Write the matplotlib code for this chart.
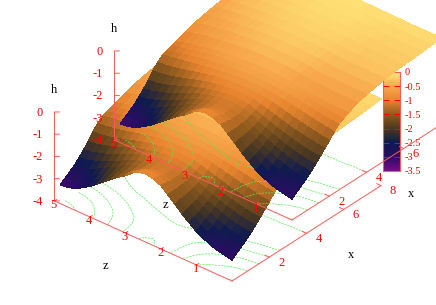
import numpy as np
import matplotlib
matplotlib.use('Agg')
import matplotlib.pyplot as plt
from matplotlib.colors import LinearSegmentedColormap, Normalize
from matplotlib.cm import ScalarMappable
from mpl_toolkits.mplot3d import proj3d

# Data

x_values = [0, 0.25, 0.5, 0.75, 1, 1.25, 1.5, 1.75, 2, 2.25, 2.5, 2.75, 3, 3.5, 4, 4.5, 5, 5.5, 6, 6.5, 7, 7.5, 8]
z_values = [0, 0.2, 0.4, 0.6, 0.8, 1.0, 1.2, 1.4, 1.6, 1.8, 2.0, 2.2, 2.4, 2.6, 2.8, 3.0, 3.2, 3.4, 3.6, 3.8, 4.0, 4.2, 4.4, 4.6, 4.83]
h_values = [
    [-3.05, -2.98, -2.92, -2.82, -2.66, -2.50, -2.25, -2.00, -1.70, -1.42, -1.15, -1.00, -0.93, -0.98, -1.15, -1.42, -1.63, -1.87, -2.12, -2.38, -2.62, -2.82, -3.00, -3.10, -3.15],
    [-2.88, -2.84, -2.78, -2.68, -2.53, -2.37, -2.15, -1.92, -1.65, -1.40, -1.18, -1.03, -0.97, -1.02, -1.20, -1.41, -1.60, -1.82, -2.04, -2.28, -2.50, -2.69, -2.86, -2.96, -3.00],
    [-2.72, -2.67, -2.60, -2.50, -2.38, -2.23, -2.06, -1.86, -1.62, -1.40, -1.22, -1.10, -1.06, -1.12, -1.26, -1.40, -1.57, -1.76, -1.97, -2.17, -2.37, -2.55, -2.70, -2.80, -2.85],
    [-2.56, -2.52, -2.46, -2.36, -2.24, -2.10, -1.95, -1.78, -1.58, -1.38, -1.22, -1.13, -1.11, -1.15, -1.26, -1.38, -1.52, -1.69, -1.87, -2.05, -2.23, -2.40, -2.55, -2.63, -2.68],
    [-2.38, -2.34, -2.28, -2.19, -2.08, -1.96, -1.83, -1.69, -1.52, -1.36, -1.22, -1.14, -1.12, -1.15, -1.23, -1.33, -1.44, -1.58, -1.74, -1.90, -2.05, -2.20, -2.32, -2.42, -2.47],
    [-2.17, -2.13, -2.08, -2.00, -1.91, -1.80, -1.68, -1.56, -1.42, -1.28, -1.16, -1.09, -1.08, -1.10, -1.16, -1.24, -1.33, -1.44, -1.57, -1.72, -1.87, -2.00, -2.10, -2.20, -2.25],
    [-1.95, -1.92, -1.87, -1.81, -1.73, -1.64, -1.54, -1.43, -1.31, -1.19, -1.08, -1.03, -1.02, -1.04, -1.09, -1.15, -1.23, -1.32, -1.42, -1.54, -1.67, -1.79, -1.90, -1.97, -2.00],
    [-1.72, -1.68, -1.63, -1.58, -1.50, -1.43, -1.34, -1.24, -1.14, -1.05, -0.98, -0.95, -0.94, -0.95, -0.98, -1.03, -1.09, -1.17, -1.26, -1.36, -1.46, -1.55, -1.63, -1.69, -1.72],
    [-1.50, -1.45, -1.40, -1.33, -1.26, -1.18, -1.10, -1.02, -0.95, -0.89, -0.85, -0.83, -0.83, -0.84, -0.87, -0.90, -0.95, -1.01, -1.08, -1.16, -1.24, -1.32, -1.39, -1.44, -1.46],
    [-1.25, -1.19, -1.14, -1.09, -1.02, -0.96, -0.90, -0.85, -0.80, -0.76, -0.73, -0.72, -0.72, -0.73, -0.76, -0.80, -0.83, -0.88, -0.93, -0.98, -1.04, -1.10, -1.15, -1.20, -1.28],
    [-1.04, -1.00, -0.97, -0.92, -0.87, -0.81, -0.76, -0.72, -0.69, -0.66, -0.64, -0.63, -0.63, -0.64, -0.66, -0.69, -0.72, -0.76, -0.80, -0.86, -0.92, -0.99, -1.06, -1.13, -1.22],
    [-0.92, -0.89, -0.86, -0.82, -0.76, -0.71, -0.67, -0.64, -0.61, -0.59, -0.57, -0.56, -0.56, -0.57, -0.59, -0.61, -0.64, -0.67, -0.72, -0.78, -0.84, -0.91, -0.98, -1.06, -1.15],
    [-0.80, -0.79, -0.78, -0.76, -0.74, -0.72, -0.69, -0.65, -0.60, -0.55, -0.52, -0.50, -0.50, -0.51, -0.52, -0.55, -0.58, -0.62, -0.66, -0.71, -0.77, -0.84, -0.90, -0.98, -1.08],
    [-0.62, -0.61, -0.60, -0.59, -0.58, -0.57, -0.56, -0.53, -0.48, -0.44, -0.42, -0.41, -0.41, -0.41, -0.42, -0.44, -0.47, -0.50, -0.54, -0.58, -0.63, -0.68, -0.74, -0.82, -0.90],
    [-0.50, -0.50, -0.50, -0.49, -0.49, -0.49, -0.49, -0.46, -0.41, -0.37, -0.35, -0.34, -0.34, -0.34, -0.35, -0.36, -0.38, -0.41, -0.44, -0.47, -0.51, -0.56, -0.61, -0.68, -0.76],
    [-0.42, -0.42, -0.42, -0.41, -0.41, -0.41, -0.40, -0.37, -0.33, -0.30, -0.29, -0.28, -0.28, -0.28, -0.29, -0.31, -0.33, -0.36, -0.39, -0.42, -0.46, -0.50, -0.55, -0.60, -0.66],
    [-0.33, -0.33, -0.33, -0.33, -0.33, -0.33, -0.32, -0.30, -0.27, -0.25, -0.24, -0.23, -0.23, -0.23, -0.24, -0.26, -0.28, -0.30, -0.33, -0.36, -0.39, -0.43, -0.47, -0.52, -0.58],
    [-0.28, -0.28, -0.28, -0.28, -0.28, -0.28, -0.27, -0.25, -0.23, -0.21, -0.20, -0.19, -0.19, -0.19, -0.20, -0.22, -0.24, -0.26, -0.28, -0.31, -0.34, -0.37, -0.41, -0.45, -0.50],
    [-0.25, -0.25, -0.25, -0.25, -0.25, -0.24, -0.23, -0.21, -0.19, -0.18, -0.17, -0.16, -0.16, -0.16, -0.17, -0.18, -0.20, -0.22, -0.24, -0.26, -0.29, -0.32, -0.35, -0.39, -0.43],
    [-0.22, -0.22, -0.22, -0.22, -0.21, -0.21, -0.20, -0.18, -0.16, -0.15, -0.14, -0.13, -0.13, -0.13, -0.14, -0.15, -0.16, -0.18, -0.20, -0.22, -0.24, -0.27, -0.29, -0.32, -0.35],
    [-0.19, -0.19, -0.19, -0.18, -0.18, -0.17, -0.16, -0.15, -0.14, -0.12, -0.11, -0.11, -0.11, -0.11, -0.11, -0.12, -0.13, -0.15, -0.16, -0.18, -0.20, -0.21, -0.23, -0.25, -0.27],
    [-0.15, -0.15, -0.15, -0.14, -0.14, -0.13, -0.13, -0.12, -0.11, -0.10, -0.09, -0.09, -0.09, -0.09, -0.09, -0.10, -0.11, -0.12, -0.13, -0.14, -0.15, -0.16, -0.17, -0.18, -0.18],
    [-0.10, -0.10, -0.10, -0.10, -0.10, -0.10, -0.09, -0.09, -0.08, -0.08, -0.07, -0.07, -0.07, -0.07, -0.07, -0.08, -0.08, -0.09, -0.09, -0.10, -0.10, -0.10, -0.10, -0.10, -0.10],
]
contour_levels = [-3, -2.5, -2, -1.5, -1, -0.5]
x_ticks = [2, 4, 6, 8]
z_ticks = [1, 2, 3, 4, 5]
h_ticks = [0, -1, -2, -3, -4]
bar_ticks = [0, -0.5, -1, -1.5, -2, -2.5, -3, -3.5]
palette_stops = ['#760a8a', '#2c0c64', '#0e1a50', '#4a3820', '#8f5a1e', '#e8842f', '#f8a84c', '#ffe97a']

# Things changeable

width = 436
height = 305
red = '#ff0000'
line_red = '#ff5a5a'
green = '#50f050'
serif = 'Liberation Serif'

plt.rcParams['font.family'] = [serif, 'DejaVu Serif']

fig = plt.figure(figsize=(width/100, height/100), dpi=100)
x_grid = np.array(x_values)
z_grid = np.array(z_values)
h_grid = np.array(h_values)
palette = LinearSegmentedColormap.from_list('gp', palette_stops)
norm = Normalize(-3.5, 0)


def pixel_of(ax, x, z, h):
    px, py, _ = proj3d.proj_transform(x, z, h, ax.get_proj())
    return ax.transData.transform((px, py))


def place_axes(ax, origin, x_end):
    # gnuplot draws axes to fixed pixels, so scale and shift the 3D box to fit
    ax.apply_aspect()
    a = pixel_of(ax, 0, 0, -4)
    b = pixel_of(ax, 8, 0, -4)
    scale = (x_end[0] - origin[0]) / (b[0] - a[0])
    ax.set_box_aspect((1, 1, 0.455), zoom=scale)
    ax.apply_aspect()
    a = pixel_of(ax, 0, 0, -4)
    pos = ax.get_position(original=True)
    shift_x = (origin[0] - a[0]) / width
    shift_y = ((height - origin[1]) - a[1]) / height
    ax.set_position([pos.x0 + shift_x, pos.y0 + shift_y, pos.width, pos.height])


def draw_plot(origin, x_end, order):
    size = 1000
    ax = fig.add_axes([0, 0, size/width, size/height], projection='3d', proj_type='ortho')
    ax.set_zorder(order)
    ax.patch.set_visible(False)
    ax.computed_zorder = False
    ax.view_init(elev=32.5, azim=-140)
    ax.set_axis_off()

    Z, X = np.meshgrid(z_grid, x_grid)
    cell = (h_grid[:-1, :-1] + h_grid[1:, :-1] + h_grid[:-1, 1:] + h_grid[1:, 1:]) / 4
    ax.contour(X, Z, h_grid, levels=contour_levels, zdir='z', offset=-4,
               colors=green, linewidths=0.5, linestyles=[(0, (3, 1.5))], zorder=1)
    ax.plot_surface(X, Z, h_grid, facecolors=palette(norm(cell)), rcount=100, ccount=100,
                    shade=False, linewidth=0.3, antialiased=False, zorder=3)

    # base of the box
    ax.plot([0, 0], [5, 0], [-4, -4], color=line_red, lw=0.7, zorder=2)
    ax.plot([0, 8], [0, 0], [-4, -4], color=line_red, lw=0.7, zorder=2)
    ax.plot([0, 0], [5, 5], [-4, 0], color=line_red, lw=0.7, zorder=2)
    for t in x_ticks:
        ax.plot([t, t], [0, 0.12], [-4, -4], color=line_red, lw=0.7, zorder=2)
        ax.text(t, -0.34, -4, str(t), color=red, fontsize=9, ha='center', va='center', zorder=2)
    for t in z_ticks:
        ax.plot([0, 0.12], [t, t], [-4, -4], color=line_red, lw=0.7, zorder=2)
        ax.text(-0.22, t - 0.09, -4, str(t), color=red, fontsize=9, ha='center', va='center', zorder=2)
    for t in h_ticks:
        ax.plot([0, 0.11], [5, 4.92], [t, t], color=line_red, lw=0.7, zorder=2)
        ax.text(-0.3, 5.16, t, str(t), color=red, fontsize=9, ha='right', va='center', zorder=2)
    ax.text(3.9, -1.31, -4, 'x', color='black', fontsize=9, ha='center', va='center', zorder=2)
    ax.text(-2.06, 2.48, -4, 'z', color='black', fontsize=9, ha='center', va='center', zorder=2)
    ax.text(0, 5, 1, 'h', color='black', fontsize=9, ha='center', va='center', zorder=2)

    ax.set_xlim(0, 8)
    ax.set_ylim(0, 5)
    ax.set_zlim(-4, 0)
    ax.set_box_aspect((1, 1, 0.455))
    place_axes(ax, origin, x_end)
    return ax


draw_plot((232, 281), (381, 184), 1)

# colour box of the lower plot
cax = fig.add_axes([383/width, (height - 171)/height, 17/width, 99/height])
cax.set_zorder(2)
bar = fig.colorbar(ScalarMappable(norm=norm, cmap=palette), cax=cax)
bar.set_ticks(bar_ticks)
bar.set_ticklabels([f'{t:g}' for t in bar_ticks])
bar.outline.set_edgecolor(line_red)
bar.outline.set_linewidth(0.8)
cax.tick_params(axis='y', which='both', direction='in', length=4, width=0.7, color=red,
                labelcolor=red, labelsize=7.5, pad=3, left=True, right=True)

draw_plot((292, 220), (441, 124), 3)

plt.savefig('out.png', dpi=100)
